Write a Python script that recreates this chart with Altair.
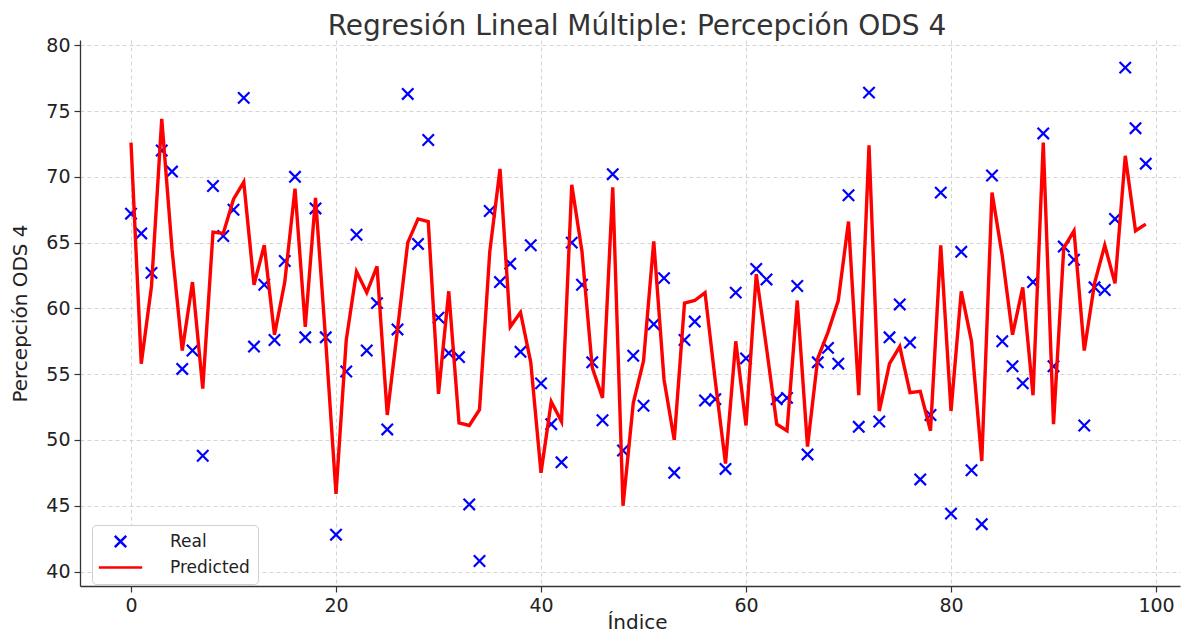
import altair as alt
import pandas as pd

# ---- data ----
idx = list(range(100))

real = [67.2, 65.7, 62.7, 72.0, 70.4, 55.4, 56.8, 48.8, 69.3, 65.5,
        67.5, 76.0, 57.1, 61.8, 57.6, 63.6, 70.0, 57.8, 67.6, 57.8,
        42.8, 55.2, 65.6, 56.8, 60.4, 50.8, 58.4, 76.3, 64.9, 72.8,
        59.3, 56.6, 56.3, 45.1, 40.8, 67.4, 62.0, 63.4, 56.7, 64.8,
        54.3, 51.2, 48.3, 65.0, 61.8, 55.9, 51.5, 70.2, 49.2, 56.4,
        52.6, 58.8, 62.3, 47.5, 57.6, 59.0, 53.0, 53.1, 47.8, 61.2,
        56.2, 63.0, 62.2, 53.1, 53.2, 61.7, 48.9, 55.9, 57.0, 55.8,
        68.6, 51.0, 76.4, 51.4, 57.8, 60.3, 57.4, 47.0, 51.9, 68.8,
        44.4, 64.3, 47.7, 43.6, 70.1, 57.5, 55.6, 54.3, 62.0, 73.3,
        55.6, 64.7, 63.7, 51.1, 61.6, 61.4, 66.8, 78.3, 73.7, 71.0]

predicted = [72.6, 55.8, 61.7, 74.4, 64.5, 56.8, 62.0, 53.9, 65.8, 65.7,
             68.3, 69.6, 61.8, 64.8, 58.0, 62.0, 69.1, 58.6, 68.4, 57.5,
             45.9, 57.6, 62.8, 61.2, 63.2, 51.9, 58.4, 65.0, 66.8, 66.6,
             53.5, 61.3, 51.3, 51.1, 52.3, 64.3, 70.6, 58.6, 59.7, 55.9,
             47.5, 52.9, 51.4, 69.4, 64.3, 55.5, 53.2, 69.2, 45.0, 52.8,
             56.0, 65.1, 54.6, 50.0, 60.4, 60.6, 61.2, 54.5, 48.2, 57.5,
             51.1, 62.6, 57.0, 51.2, 50.7, 60.6, 49.5, 56.2, 58.2, 60.6,
             66.6, 53.4, 72.4, 52.2, 55.8, 57.1, 53.6, 53.7, 50.7, 64.8,
             52.2, 61.3, 57.5, 48.4, 68.8, 64.0, 58.0, 61.6, 53.4, 72.6,
             51.2, 64.6, 65.9, 56.8, 61.9, 64.8, 61.9, 71.6, 65.9, 66.4]

series_names = ["Real", "Predicted"]
x_ticks = [0, 20, 40, 60, 80, 100]
y_ticks = [40, 45, 50, 55, 60, 65, 70, 75, 80]

title_text = "Regresión Lineal Múltiple: Percepción ODS 4"
x_title = "Índice"
y_title = "Percepción ODS 4"

# ---- build tables ----
df_real = pd.DataFrame({"idx": idx, "value": real, "series": "Real"})
df_pred = pd.DataFrame({"idx": idx, "value": predicted, "series": "Predicted"})

FONT = "DejaVu Sans"
X_PATH = "M-1,-1L1,1M1,-1L-1,1"
LINE_PATH = "M-3.8,0L3.8,0"

xscale = alt.Scale(domain=[-4.976, 102.34], nice=False, zero=False)
yscale = alt.Scale(domain=[38.9, 80.4], nice=False, zero=False)

xaxis = alt.Axis(title=x_title, values=x_ticks, format="d",
                 titleX=557, titleY=42, titleBaseline="alphabetic")
yaxis = alt.Axis(title=y_title, values=y_ticks, format="d",
                 titleX=-60, titleY=273, titleBaseline="middle")

legend = alt.Legend(title=None, orient="none", legendX=12, legendY=485,
                    fillColor="white", strokeColor="#d0d0d0", cornerRadius=4,
                    padding=8, labelFont=FONT, labelFontSize=17, labelColor="#222222",
                    symbolSize=130, symbolStrokeWidth=2.5, symbolOffset=12,
                    labelOffset=41, rowPadding=5)

points = alt.Chart(df_real).mark_point(
    filled=False, size=130, strokeWidth=2.2, opacity=1
).encode(
    x=alt.X("idx:Q", scale=xscale, axis=xaxis),
    y=alt.Y("value:Q", scale=yscale, axis=yaxis),
    color=alt.Color("series:N",
                    scale=alt.Scale(domain=series_names, range=["#0000ff", "#ff0000"]),
                    legend=legend),
    shape=alt.Shape("series:N",
                    scale=alt.Scale(domain=series_names, range=[X_PATH, LINE_PATH]),
                    legend=legend),
)

line = alt.Chart(df_pred).mark_line(color="#ff0000", strokeWidth=3.4).encode(
    x=alt.X("idx:Q", scale=xscale),
    y=alt.Y("value:Q", scale=yscale),
)

chart = alt.layer(points, line).properties(
    width=1100,
    height=546,
    autosize=alt.AutoSizeParams(type="none"),
    padding={"left": 72, "top": 32, "right": 4, "bottom": 46},
    title=alt.TitleParams(title_text, font=FONT, fontSize=28, fontWeight="normal",
                          color="#333333", anchor="middle", offset=-5, dx=7),
).configure_view(stroke=None).configure_axis(
    grid=True, gridColor="#cfcfcf", gridDash=[4, 3], gridWidth=0.9,
    domainColor="#333333", domainWidth=1.3,
    tickColor="#333333", tickSize=6, tickWidth=1.2,
    labelFont=FONT, labelFontSize=19, labelColor="#222222", labelPadding=4,
    titleFont=FONT, titleFontSize=20, titleFontWeight="normal", titleColor="#222222",
)

chart.save("out.html", embed_options={"renderer": "svg", "actions": False})
